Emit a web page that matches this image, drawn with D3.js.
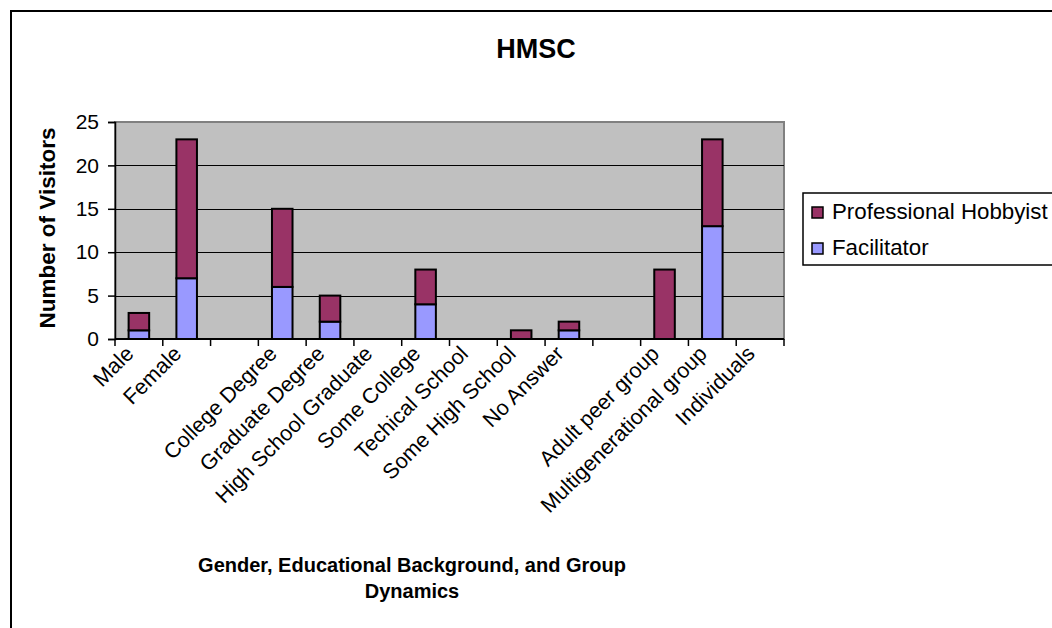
<!DOCTYPE html>
<html>
<head>
<meta charset="utf-8">
<script src="https://cdn.jsdelivr.net/npm/d3@7"></script>
<style>
  html, body { margin: 0; padding: 0; background: #fff; }
  svg { display: block; font-family: "Liberation Sans", Arial, sans-serif; }
</style>
</head>
<body>
<svg id="chart" width="1052" height="628"></svg>
<script>
// Categories (empty strings are spacer slots between groups)
const categories = [
  "Male", "Female", "",
  "College Degree", "Graduate Degree", "High School Graduate", "Some College",
  "Techical School", "Some High School", "No Answer", "",
  "Adult peer group", "Multigenerational group", "Individuals"
];
const facilitator = [1, 7, 0, 6, 2, 0, 4, 0, 0, 1, 0, 0, 13, 0];
const professionalHobbyist = [2, 16, 0, 9, 3, 0, 4, 0, 1, 1, 0, 8, 10, 0];
const yTicks = [0, 5, 10, 15, 20, 25];
const seriesNames = ["Facilitator", "Professional Hobbyist"];
const seriesColors = { "Facilitator": "#9999ff", "Professional Hobbyist": "#993366" };

const svg = d3.select("#chart");

// Outer chart frame
svg.append("rect")
  .attr("x", 11).attr("y", 11)
  .attr("width", 1200).attr("height", 800)
  .attr("fill", "#fff").attr("stroke", "#000").attr("stroke-width", 2);

const plot = { left: 115, right: 784, top: 122, bottom: 339 };

const x = d3.scaleBand()
  .domain(d3.range(categories.length))
  .range([plot.left, plot.right])
  .paddingInner(0).paddingOuter(0);

const y = d3.scaleLinear().domain([0, 25]).range([plot.bottom, plot.top]);

// Plot background
svg.append("rect")
  .attr("x", plot.left).attr("y", plot.top)
  .attr("width", plot.right - plot.left).attr("height", plot.bottom - plot.top)
  .attr("fill", "#c0c0c0").attr("stroke", "#808080").attr("stroke-width", 2);

// Gridlines
svg.append("g").selectAll("line")
  .data(yTicks.filter(t => t > 0 && t < 25))
  .join("line")
  .attr("x1", plot.left).attr("x2", plot.right)
  .attr("y1", d => Math.round(y(d)) + 0.5).attr("y2", d => Math.round(y(d)) + 0.5)
  .attr("stroke", "#000").attr("stroke-width", 1);

// Stacked bars
const rows = categories.map((c, i) => ({
  idx: i,
  "Facilitator": facilitator[i],
  "Professional Hobbyist": professionalHobbyist[i]
}));
const stack = d3.stack().keys(seriesNames)(rows);

const barW = x.bandwidth() * 0.43;
svg.append("g").selectAll("g")
  .data(stack)
  .join("g")
  .attr("fill", d => seriesColors[d.key])
  .selectAll("rect")
  .data(d => d.filter(s => s[1] - s[0] > 0))
  .join("rect")
  .attr("x", d => x(d.data.idx) + (x.bandwidth() - barW) / 2)
  .attr("y", d => y(d[1]))
  .attr("width", barW)
  .attr("height", d => y(d[0]) - y(d[1]))
  .attr("stroke", "#000").attr("stroke-width", 2);

// Y axis
const yAxis = d3.axisLeft(y).tickValues(yTicks).tickSize(7).tickPadding(9);
const yg = svg.append("g")
  .attr("transform", `translate(${plot.left},0)`)
  .call(yAxis);
yg.select(".domain").attr("stroke", "#000").attr("stroke-width", 1.5);
yg.selectAll(".tick line").attr("stroke", "#000").attr("stroke-width", 1.5);
yg.selectAll(".tick text")
  .attr("font-size", 21).attr("fill", "#000")
  .attr("font-family", "'Liberation Sans', Arial, sans-serif");

// X axis: ticks at category boundaries
const xg = svg.append("g");
xg.append("line")
  .attr("x1", plot.left).attr("x2", plot.right)
  .attr("y1", plot.bottom).attr("y2", plot.bottom)
  .attr("stroke", "#000").attr("stroke-width", 2);
const boundaries = d3.range(categories.length + 1).map(i =>
  i < categories.length ? x(i) : x(categories.length - 1) + x.bandwidth());
xg.selectAll("line.tick")
  .data(boundaries)
  .join("line")
  .attr("class", "tick")
  .attr("x1", d => d).attr("x2", d => d)
  .attr("y1", plot.bottom).attr("y2", plot.bottom + 7)
  .attr("stroke", "#000").attr("stroke-width", 1.5);

// Rotated category labels
xg.selectAll("text")
  .data(categories.map((c, i) => ({ c, i })).filter(d => d.c !== ""))
  .join("text")
  .attr("transform", d => `translate(${x(d.i) + x.bandwidth() / 2 - 4},${plot.bottom + 16}) rotate(-45)`)
  .attr("text-anchor", "end")
  .attr("font-size", 21.5)
  .attr("fill", "#000")
  .text(d => d.c);

// Chart title
svg.append("text")
  .attr("x", 536).attr("y", 58)
  .attr("text-anchor", "middle")
  .attr("font-size", 27).attr("font-weight", "bold")
  .text("HMSC");

// Y axis title
svg.append("text")
  .attr("transform", "translate(55,228) rotate(-90)")
  .attr("text-anchor", "middle")
  .attr("font-size", 22.5).attr("font-weight", "bold")
  .text("Number of Visitors");

// X axis title (two lines)
const xt = svg.append("text")
  .attr("text-anchor", "middle")
  .attr("font-size", 20).attr("font-weight", "bold");
xt.append("tspan").attr("x", 412).attr("y", 572).text("Gender, Educational Background, and Group");
xt.append("tspan").attr("x", 412).attr("y", 598).text("Dynamics");

// Legend
const lg = svg.append("g");
lg.append("rect")
  .attr("x", 803).attr("y", 193)
  .attr("width", 400).attr("height", 72)
  .attr("fill", "#fff").attr("stroke", "#000").attr("stroke-width", 1.5);
const legendOrder = ["Professional Hobbyist", "Facilitator"];
const li = lg.selectAll("g.item")
  .data(legendOrder)
  .join("g")
  .attr("class", "item")
  .attr("transform", (d, i) => `translate(812,${207 + i * 36})`);
li.append("rect")
  .attr("width", 11).attr("height", 11)
  .attr("fill", d => seriesColors[d])
  .attr("stroke", "#000").attr("stroke-width", 1.5);
li.append("text")
  .attr("x", 20).attr("y", 12)
  .attr("font-size", 22.3).attr("fill", "#000")
  .text(d => d);
</script>
</body>
</html>
